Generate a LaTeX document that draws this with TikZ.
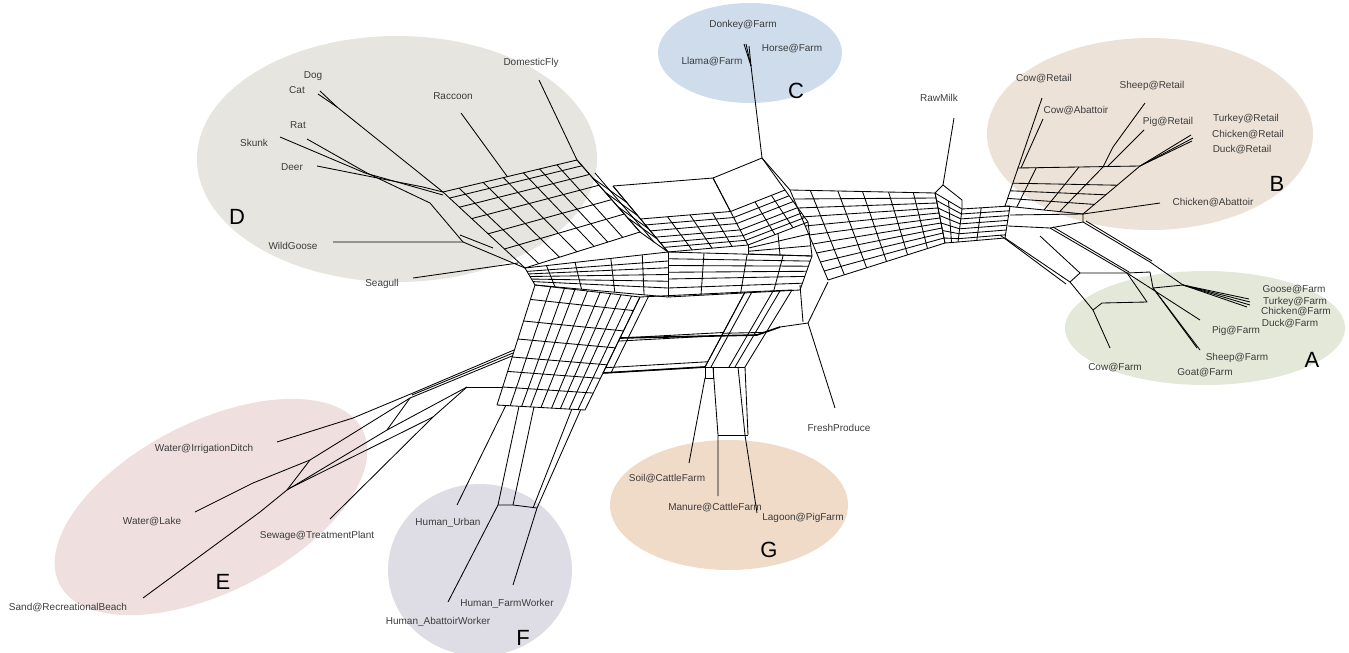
\documentclass[tikz,border=0pt]{standalone}
\usepackage{fontspec}
\setmainfont{Liberation Sans}
\usetikzlibrary{calc}
\definecolor{blobD}{HTML}{E6E5DF}
\definecolor{blobC}{HTML}{CFDCEC}
\definecolor{blobB}{HTML}{EDE2D8}
\definecolor{blobA}{HTML}{E4E8D9}
\definecolor{blobE}{HTML}{EFDFDF}
\definecolor{blobF}{HTML}{DEDDE5}
\definecolor{blobG}{HTML}{F0DAC8}
\definecolor{txt}{HTML}{3C3C3C}
\newcommand\gpatch[6]{%
  \foreach \uu in {#5}{\draw[net] ($(#1)!\uu!(#2)$) -- ($(#3)!\uu!(#4)$);}%
  \foreach \vv in {#6}{\draw[net] ($(#1)!\vv!(#3)$) -- ($(#2)!\vv!(#4)$);}%
}
\begin{document}
\begin{tikzpicture}[x=1pt,y=-1pt,
  net/.style={line width=0.85pt, black, line join=round},
  thick net/.style={line width=1.6pt, black},
  lbl/.style={font=\fontsize{10}{12}\selectfont, text=txt, inner sep=0pt},
  big/.style={font=\fontsize{22}{24}\selectfont, text=black, inner sep=0pt}]
\useasboundingbox (0,0) rectangle (1349,653);
% ---------- blobs
\fill[blobD] (397,159) ellipse [x radius=200, y radius=123];
\fill[blobC] (750,53) ellipse [x radius=92, y radius=50];
\fill[blobB] (1150,134) ellipse [x radius=163, y radius=96];
\fill[blobA] (1205,328) ellipse [x radius=140, y radius=57];
\fill[blobE, rotate around={27:(211,507)}] (211,507) ellipse [x radius=170, y radius=85];
\fill[blobF] (480,570) ellipse [x radius=92, y radius=86];
\fill[blobG] (729,505) ellipse [x radius=119, y radius=65];
% ---------- mesh corner coordinates
\coordinate (d1) at (443,192); \coordinate (d2) at (577,160);
\coordinate (d3) at (525,268); \coordinate (d4) at (640,232);
\coordinate (t1) at (613,186); \coordinate (t2) at (713,178);
\coordinate (t3) at (668,252); \coordinate (t4) at (748,245);
\coordinate (t5) at (762,158); \coordinate (t6) at (808,222);
\coordinate (t7) at (748,254); \coordinate (t8) at (812,256);
\coordinate (t1b) at ($(t1)!.5!(t3)$); \coordinate (t2b) at ($(t2)!.5!(t4)$);
\coordinate (t5b) at ($(t5)!.5!(t6)$);
\coordinate (r1) at (790,190); \coordinate (r2) at (935,193);
\coordinate (r3) at (828,280); \coordinate (r4) at (945,243);
\coordinate (r5) at (962,209); \coordinate (r6) at (958,242);
\coordinate (r7) at (1010,206); \coordinate (r8) at (1005,238);
\coordinate (j3) at (535,285); \coordinate (j4) at (668,297);
\coordinate (m2) at (800,290);
\coordinate (l1) at (640,297); \coordinate (l2) at (745,292);
\coordinate (l3) at (603,373); \coordinate (l4) at (705,367);
\coordinate (f1) at (535,285); \coordinate (f3) at (497,405); \coordinate (f4) at (585,410);
\coordinate (g2) at (792,290); \coordinate (g4) at (745,367);
\coordinate (b1) at (1018,168); \coordinate (b2) at (1140,166);
\coordinate (b3) at (1005,206); \coordinate (b4) at (1083,214);
% ---------- mesh patches
\gpatch{d1}{d2}{d3}{d4}{0,.12,.3,.45,.6,.72,.85,1}{0,.08,.2,.35,.55,.75,1}
\gpatch{d2}{t1}{d4}{t3}{0,.5,1}{.25,.45,.65,.8,1}
\gpatch{t1}{t2}{t1b}{t2b}{0,1}{0}
\gpatch{t1b}{t2b}{t3}{t4}{0,.3,.55,.8,1}{0,.18,.36,.55,.72,.86,1}
\gpatch{t2}{t5}{t2b}{t5b}{0,1}{0,1}
\gpatch{t2b}{t5b}{t4}{t6}{.45,.75,1}{.18,.36,.55,.72,.86,1}
\gpatch{t4}{t6}{t7}{t8}{0,.5,1}{.35,.7,1}
\gpatch{r1}{r2}{r3}{r4}{0,.14,.33,.5,.68,.85,1}{0,.1,.2,.3,.4,.5,.6,.7,.8,.9,1}
\gpatch{r2}{r5}{r4}{r6}{0,.5,1}{0,.15,.3,.45,.6,.75,.9,1}
\gpatch{r5}{r7}{r6}{r8}{.4,1}{0,.15,.3,.45,.6,.75,.9,1}
\gpatch{d3}{t3}{j3}{j4}{0,.15,.35,.6,.82,1}{0,.2,.35,.5,.65,.8,1}
\gpatch{t3}{t8}{j4}{m2}{0,.25,.55,.8,1}{0,.15,.3,.45,.6,.8,1}
\gpatch{l1}{l2}{l3}{l4}{0,.08,1}{0,.54,.58,.93,1}
\gpatch{f1}{l1}{f3}{f4}{0,.15,.28,.38,.5,.62,.72,.82,.92,1}{0,.12,.3,.45,.6,.72,.85,1}
\gpatch{l2}{g2}{l4}{g4}{0,.15,.6,.75,1}{0,.55,1}
\gpatch{b1}{b2}{b3}{b4}{0,.15,.5,.7,1}{0,.4,.6,.8,1}
\draw[thick net] (620,338) -- (757,335);
\draw[thick net] (l3) -- (l4);
% ---------- F arm lower part
\coordinate (fa) at ($(f3)!.25!(f4)$); \coordinate (fb) at ($(f3)!.42!(f4)$);
\coordinate (fc) at ($(f3)!.85!(f4)$); \coordinate (fd) at ($(f3)!.95!(f4)$);
\coordinate (fu) at ($(f3)!.1!(f4)$);
\coordinate (fx1) at (498,505); \coordinate (fx2) at (513,505);
\coordinate (fx3) at (533,508); \coordinate (fx4) at (537,508);
\draw[net] (fa) -- (fx1); \draw[net] (fb) -- (fx2);
\draw[net] (fc) -- (fx3); \draw[net] (fd) -- (fx4);
\draw[net] (fx1) -- (fx2) -- (fx4);
% ---------- E arm
\coordinate (e0a) at (514,350); \coordinate (e0b) at (512,356); \coordinate (e0c) at (503,387);
\coordinate (ea) at (413,393); \coordinate (eb) at (353,418);
\coordinate (ec) at (410,398); \coordinate (ed) at (310,460); \coordinate (ee) at (253,483);
\coordinate (ef) at (387,430); \coordinate (eg) at (287,490); \coordinate (eh) at (260,512);
\coordinate (ei) at (467,387); \coordinate (ej) at (433,417);
\coordinate (eID) at (277,442); \coordinate (eLake) at (195,512);
\coordinate (eSand) at (143,598); \coordinate (eSew) at (330,519);
\draw[net] (e0a) -- (ea) -- (eb) -- (eID);
\draw[net] (e0b) -- (ec) -- (ed) -- (ee) -- (eLake);
\draw[net] (513,353) -- (412,395);
\draw[net] (ec) -- (ef) -- (eg) -- (eh) -- (eSand);
\draw[net] (ei) -- (ef);
\draw[net] (ei) -- (ej) -- (eSew);
\draw[net] (ei) -- (e0c);
\draw[net] (ed) -- (eg);
\draw[net] (ej) -- (290,488);
% ---------- G arm and FreshProduce
\coordinate (ga) at (713,367); \coordinate (gb) at (705,378); \coordinate (gc) at (713,378);
\coordinate (gd) at (738,367);
\coordinate (gl1) at (718,435); \coordinate (gl2) at (745,435);
\coordinate (eSoil) at (689,463); \coordinate (eMan) at (718,496); \coordinate (eLag) at (757,513);
\draw[net] (l4) -- (gb) -- (gc) -- (ga);
\draw[net] (gb) -- (eSoil);
\draw[net] (ga) -- (gl1) -- (eMan);
\draw[net] (gd) -- (gl2) -- (eLag);
\draw[net] (g4) -- (748,435);
\draw[net] (gl1) -- (748,435);
\coordinate (fp1) at (800,285); \coordinate (fp2) at (828,282);
\coordinate (fp3) at (808,323); \coordinate (fp4) at (780,327); \coordinate (fp5) at (803,322);
\coordinate (eFresh) at (835,408);
\draw[net] (fp2) -- (fp3) -- (fp4);
\draw[net] (fp1) -- (fp5);
\draw[thick net] (757,335) -- (fp4);
\draw[net] (fp3) -- (eFresh);
% ---------- D leaves
\coordinate (eDog) at (320,91); \coordinate (eCat) at (318,94); \coordinate (dc) at (337,107);
\coordinate (eSkunk) at (280,137); \coordinate (eRat) at (307,139); \coordinate (eDeer) at (317,166);
\coordinate (ds) at (365,173); \coordinate (dr) at (367,173); \coordinate (drr) at (430,203);
\coordinate (dw) at (463,242); \coordinate (eWG) at (333,242); \coordinate (eSea) at (413,278);
\draw[net] (eDog) -- (dc); \draw[net] (eCat) -- (dc); \draw[net] (dc) -- (d1);
\draw[net] (eSkunk) -- (ds) -- (443,195);
\draw[net] (eRat) -- (dr) -- (drr) -- (dw);
\draw[net] (eDeer) -- (423,187) -- (d1);
\draw[net] (eWG) -- (dw) -- (d3);
\draw[net] (460,235) -- (493,248);
\draw[net] (eSea) -- (518,263);
\coordinate (eRac) at (461,113); \coordinate (eFly) at (539,80);
\draw[net] (eRac) -- ($(d1)!.48!(d2)$);
\draw[net] (eFly) -- (d2);
% ---------- C
\coordinate (cc) at (751,66);
\draw[net] (744,44) -- (cc); \draw[net] (746,44) -- (cc); \draw[net] (749,46) -- (cc);
\draw[net] (cc) -- (t5);
\draw[net] (t5) -- (r1);
% ---------- RawMilk
\coordinate (rm) at (943,185); \coordinate (eRaw) at (954,118);
\draw[net] (r2) -- (rm) -- (962,200) -- (r5);
\draw[net] (rm) -- (eRaw);
% ---------- B leaves
\coordinate (eCowR) at (1042,98); \coordinate (eCowA) at (1043,119);
\coordinate (eSheepR) at (1145,103); \coordinate (ePigR) at (1144,130);
\coordinate (eFanR) at (1193,138); \coordinate (eChA) at (1160,203);
\draw[net] (eCowR) -- (b1);
\draw[net] (eCowA) -- (1021,168);
\draw[net] (eSheepR) -- (1113,147) -- (1103,167);
\draw[net] (ePigR) -- (1107,167);
\draw[net] (b2) -- (eFanR); \draw[net] (b2) -- (1191,135); \draw[net] (b2) -- (1192,141);
\draw[net] (eChA) -- (b4);
% ---------- A arm
\coordinate (a0) at (1050,228); \coordinate (a00) at (1083,222);
\coordinate (ab1) at (1070,282); \coordinate (ab2) at (1080,273);
\coordinate (ab3) at (1127,273); \coordinate (ab4) at (1150,272);
\coordinate (ab5) at (1147,302); \coordinate (ab6) at (1093,310); \coordinate (ab7) at (1102,303);
\coordinate (ab8) at (1153,288); \coordinate (ab9) at (1183,285);
\coordinate (eCowF) at (1110,348); \coordinate (ePigF) at (1200,320);
\coordinate (eSheepF) at (1200,350); \coordinate (eGoatF) at (1197,348);
\coordinate (eFanF) at (1250,302);
\draw[net] (1010,215) -- (b4) -- (a00);
\draw[net] (1008,226) -- (a0) -- (a00);
\draw[net] (r8) -- (ab1); \draw[net] (1000,235) -- (1066,284);
\draw[net] (1040,236) -- (ab2);
\draw[net] (a0) -- (ab3); \draw[net] (1053,227) -- (1129,272);
\draw[net] (a00) -- (1150,262) -- (ab9); \draw[net] (1086,221) -- (1152,261);
\draw[net] (ab1) -- (ab2) -- (ab3) -- (ab4) -- (ab8) -- (ab9);
\draw[net] (ab3) -- (ab5) -- (ab7) -- (ab6) -- (ab1);
\draw[net] (ab6) -- (eCowF);
\draw[net] (ab3) -- (ePigF);
\draw[net] (ab8) -- (eSheepF); \draw[net] (ab8) -- (eGoatF);
\draw[net] (ab9) -- (eFanF); \draw[net] (ab9) -- (1249,299); \draw[net] (ab9) -- (1250,305); \draw[net] (ab9) -- (1247,307);
% ---------- F leaves
\coordinate (eUrb) at (457,505); \coordinate (eAbw) at (448,602); \coordinate (eFw) at (513,585);
\draw[net] (eUrb) -- (fu);
\draw[net] (eAbw) -- (fx1);
\draw[net] (eFw) -- (fx4);
% ---------- labels
\node[lbl] (lDog) at (313,76) {Dog};
\node[lbl] (lCat) at (297,90) {Cat};
\node[lbl] (lRat) at (298,125) {Rat};
\node[lbl] (lSkunk) at (254,143) {Skunk};
\node[lbl] (lDeer) at (292,167) {Deer};
\node[lbl] (lWG) at (293,246) {WildGoose};
\node[lbl] (lSea) at (382,284) {Seagull};
\node[lbl] (lRac) at (453,96) {Raccoon};
\node[lbl] (lFly) at (531,63) {DomesticFly};
\node[big] (lD) at (237,217) {D};
\node[lbl] (lDon) at (743,25) {Donkey@Farm};
\node[lbl] (lHor) at (792,49) {Horse@Farm};
\node[lbl] (lLla) at (712,62) {Llama@Farm};
\node[big] (lC) at (796,91) {C};
\node[lbl] (lRaw) at (939,98) {RawMilk};
\node[lbl] (lCowR) at (1044,79) {Cow@Retail};
\node[lbl] (lCowA) at (1076,111) {Cow@Abattoir};
\node[lbl] (lSheepR) at (1152,86) {Sheep@Retail};
\node[lbl] (lPigR) at (1168,122) {Pig@Retail};
\node[lbl] (lTurR) at (1246,119) {Turkey@Retail};
\node[lbl] (lChR) at (1248,135) {Chicken@Retail};
\node[lbl] (lDuR) at (1242,150) {Duck@Retail};
\node[big] (lB) at (1277,184) {B};
\node[lbl] (lChA) at (1213,203) {Chicken@Abattoir};
\node[lbl] (lGoF) at (1294,290) {Goose@Farm};
\node[lbl] (lTuF) at (1295,302) {Turkey@Farm};
\node[lbl] (lChF) at (1296,312) {Chicken@Farm};
\node[lbl] (lDuF) at (1290,324) {Duck@Farm};
\node[lbl] (lPiF) at (1236,331) {Pig@Farm};
\node[lbl] (lShF) at (1237,358) {Sheep@Farm};
\node[lbl] (lGtF) at (1205,373) {Goat@Farm};
\node[lbl] (lCoF) at (1115,368) {Cow@Farm};
\node[big] (lA) at (1312,360) {A};
\node[lbl] (lFresh) at (839,428) {FreshProduce};
\node[lbl] (lSoil) at (667,479) {Soil@CattleFarm};
\node[lbl] (lMan) at (715,508) {Manure@CattleFarm};
\node[lbl] (lLag) at (803,518) {Lagoon@PigFarm};
\node[big] (lG) at (769,550) {G};
\node[lbl] (lWID) at (204,449) {Water@IrrigationDitch};
\node[lbl] (lLake) at (152,522) {Water@Lake};
\node[lbl] (lSew) at (317,536) {Sewage@TreatmentPlant};
\node[lbl] (lSand) at (68,608) {Sand@RecreationalBeach};
\node[big] (lE) at (223,582) {E};
\node[lbl] (lUrb) at (448,523) {Human\_Urban};
\node[lbl] (lFw) at (507,604) {Human\_FarmWorker};
\node[lbl] (lAbw) at (438,622) {Human\_AbattoirWorker};
\node[big] (lF) at (523,638) {F};
\end{tikzpicture}
\end{document}
